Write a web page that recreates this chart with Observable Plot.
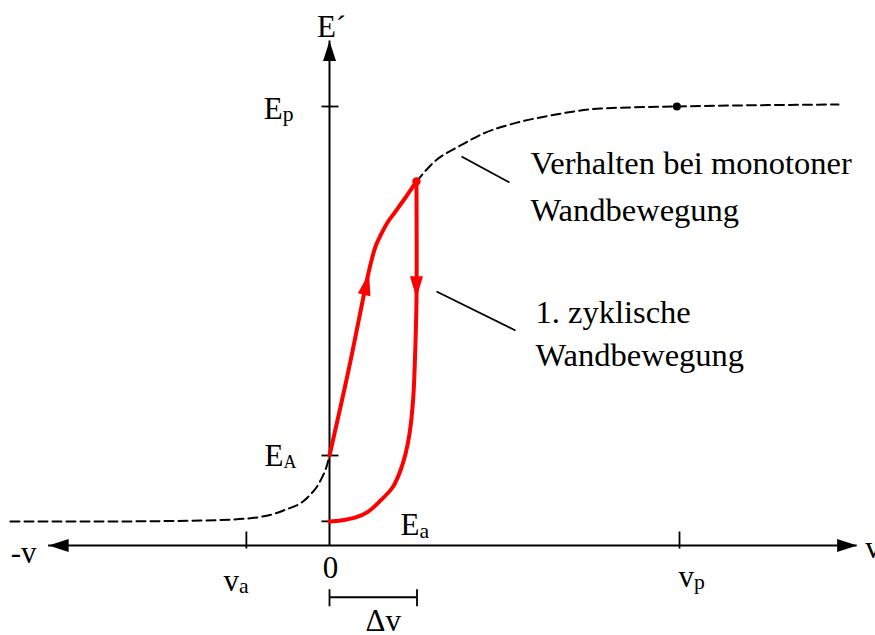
<!DOCTYPE html>
<html>
<head>
<meta charset="utf-8">
<script src="https://cdn.jsdelivr.net/npm/d3@7"></script>
<script src="https://cdn.jsdelivr.net/npm/@observablehq/plot@0.6"></script>
<style>
  html, body { margin: 0; padding: 0; background: #fff; }
  #chart svg { display: block; }
</style>
</head>
<body>
<div id="chart"></div>
<script>
// Characteristic displacements (v) and stiffness levels (E')
const vTickValues = [-0.95, 0, 4];          // v_a, 0, v_p
const vTickLabels = ["v_a", "0", "v_p"];
const eTickValues = [10, 2.05, 0.55];       // E_p, E_A, E_a
const eTickLabels = ["E_p", "E_A", "E_a"];
const deltaV = 1.0;
const vAxisExtent = [-3.21, 6.03];
const eAxisTop = 11.49;
const bracketE = -1.18;

// Monotonic wall movement (dashed), negative displacement side
const monoNegV = [-3.646, -2.617, -1.474, -0.937, -0.526, -0.251, -0.103, -0.023, 0];
const monoNegE = [0.547, 0.547, 0.569, 0.615, 0.797, 1.093, 1.481, 1.868, 2.05];
// Monotonic wall movement (dashed), beyond the reversal point
const monoPosV = [0.994, 1.189, 1.497, 1.76, 2.149, 2.526, 3.097, 3.97, 5.817];
const monoPosE = [8.292, 8.724, 9.112, 9.385, 9.636, 9.795, 9.954, 10.0, 10.046];
// First cyclic wall movement: loading branch
const loadV = [0, 0.217, 0.434, 0.48, 0.526, 0.583, 0.663, 0.754, 0.869, 0.994];
const loadE = [2.05, 3.986, 6.105, 6.492, 6.811, 7.062, 7.358, 7.608, 7.927, 8.292];
// First cyclic wall movement: unloading branch
const unloadV = [0.994, 0.994, 0.98, 0.955, 0.915, 0.87, 0.811, 0.72, 0.583, 0.434, 0.3, 0.13, 0];
const unloadE = [8.292, 5.581, 4.442, 3.303, 2.551, 2.096, 1.708, 1.321, 1.025, 0.76, 0.64, 0.57, 0.547];

// Reversal point of the cycle and the plateau point (v_p, E_p)
const reversalPoint = [0.994, 8.292];
const plateauPoint = [3.97, 10.0];

// Direction arrows on the loop
const loopArrowV = [0.452, 0.994];
const loopArrowE = [6.2, 5.63];
const loopArrowAngle = [13, 180];

// Leader lines to the annotations
const leaderV1 = [1.509, 1.223];
const leaderE1 = [8.861, 5.786];
const leaderV2 = [2.057, 2.126];
const leaderE2 = [8.269, 4.897];
const annotations = ["Verhalten bei monotoner\nWandbewegung", "1. zyklische\nWandbewegung"];

const zip = (vs, es) => vs.map((v, i) => ({v, E: es[i]}));
const FONT = "'Liberation Serif', 'Times New Roman', Times, serif";
const FS = 31;

// filled arrowhead with its tip at the origin, pointing up
const arrowHead = (len, half) => ({
  draw(ctx) { ctx.moveTo(0, 0); ctx.lineTo(half, len); ctx.lineTo(-half, len); ctx.closePath(); }
});
const hTick = {draw(ctx) { ctx.moveTo(-8, 0); ctx.lineTo(9, 0); }};
const vTick = {draw(ctx) { ctx.moveTo(0, -14); ctx.lineTo(0, 3); }};
const vBracketEnd = {draw(ctx) { ctx.moveTo(0, -8); ctx.lineTo(0, 9); }};

const axisTips = [
  {v: vAxisExtent[1], E: 0, angle: 90},
  {v: vAxisExtent[0], E: 0, angle: -90},
  {v: 0, E: eAxisTop, angle: 0}
];

const txt = (label, v, E, opts) => Plot.text([label], {
  x: () => v, y: () => E, text: d => d,
  fontFamily: FONT, fontSize: FS, fill: "black", lineAnchor: "bottom", ...opts
});

const chart = Plot.plot({
  width: 875,
  height: 635,
  x: {domain: [0, vTickValues[2]], range: [329, 679], axis: null},
  y: {domain: [0, eTickValues[0]], range: [545, 106], axis: null},
  style: {fontFamily: FONT, fontSize: FS + "px", background: "white", overflow: "visible"},
  marks: [
    // axes
    Plot.ruleY([0], {x1: vAxisExtent[0], x2: vAxisExtent[1], stroke: "black", strokeWidth: 2}),
    Plot.ruleX([0], {y1: 0, y2: eAxisTop, stroke: "black", strokeWidth: 2}),
    Plot.dot(axisTips, {x: "v", y: "E", rotate: "angle", symbol: arrowHead(20, 6.5), fill: "black", stroke: "none"}),
    Plot.dot(eTickValues, {x: 0, y: d => d, symbol: hTick, stroke: "black", strokeWidth: 1.8, fill: "none"}),
    Plot.dot(vTickValues.filter(d => d !== 0), {x: d => d, y: 0, symbol: vTick, stroke: "black", strokeWidth: 1.8, fill: "none"}),
    // Δv bracket
    Plot.ruleY([bracketE], {x1: 0, x2: deltaV, stroke: "black", strokeWidth: 2}),
    Plot.dot([0, deltaV], {x: d => d, y: bracketE, symbol: vBracketEnd, stroke: "black", strokeWidth: 1.8, fill: "none"}),
    // monotonic behaviour (dashed)
    Plot.line(zip(monoNegV, monoNegE), {x: "v", y: "E", curve: "monotone-x", stroke: "black", strokeWidth: 2, strokeDasharray: "9,5"}),
    Plot.line(zip(monoPosV, monoPosE), {x: "v", y: "E", curve: "monotone-x", stroke: "black", strokeWidth: 2, strokeDasharray: "9,5"}),
    // leader lines
    Plot.link([0, 1], {x1: i => leaderV1[i], y1: i => leaderE1[i], x2: i => leaderV2[i], y2: i => leaderE2[i], stroke: "black", strokeWidth: 1.8}),
    // first cyclic wall movement
    Plot.line(zip(loadV, loadE), {x: "v", y: "E", curve: "catmull-rom", stroke: "#ff0000", strokeWidth: 4}),
    Plot.line(zip(unloadV, unloadE), {x: "v", y: "E", curve: "catmull-rom", stroke: "#ff0000", strokeWidth: 4}),
    Plot.dot([0, 1], {x: i => loopArrowV[i], y: i => loopArrowE[i], rotate: i => loopArrowAngle[i], symbol: arrowHead(22, 6.5), fill: "#ff0000", stroke: "none"}),
    Plot.dot([reversalPoint], {x: d => d[0], y: d => d[1], r: 4.2, fill: "#ff0000", stroke: "none"}),
    Plot.dot([plateauPoint], {x: d => d[0], y: d => d[1], r: 4, fill: "black", stroke: "none"}),
    // axis titles
    txt("E´", 0, eAxisTop, {textAnchor: "middle", dx: 2, dy: -4}),
    txt("-v", vAxisExtent[0], 0, {textAnchor: "end", dx: -12, dy: 17}),
    txt("v", vAxisExtent[1], 0, {textAnchor: "start", dx: 8, dy: 12}),
    // stiffness tick labels
    txt(eTickLabels[0], 0, eTickValues[0], {textAnchor: "end", dx: -36, dy: 12}),
    txt(eTickLabels[1], 0, eTickValues[1], {textAnchor: "end", dx: -33, dy: 10}),
    txt(eTickLabels[2], 0, eTickValues[2], {textAnchor: "start", dx: 71, dy: 14}),
    // displacement tick labels
    txt(vTickLabels[0], vTickValues[0], 0, {textAnchor: "start", dx: -23, dy: 45}),
    txt(vTickLabels[1], vTickValues[1], 0, {textAnchor: "middle", dx: 1, dy: 32}),
    txt(vTickLabels[2], vTickValues[2], 0, {textAnchor: "start", dx: -1, dy: 41}),
    txt("Δv", deltaV / 2, bracketE, {textAnchor: "middle", dx: 10, dy: 34}),
    // annotations
    txt(annotations[0], leaderV2[0], leaderE2[0], {textAnchor: "start", dx: 21, dy: 39, lineHeight: 1.45, fontSize: 32.5}),
    txt(annotations[1], leaderV2[1], leaderE2[1], {textAnchor: "start", dx: 20, dy: 35, lineHeight: 1.32, fontSize: 32.5})
  ]
});

// render "X_y" labels with a subscript
const subScale = {A: 0.58};
chart.querySelectorAll("text").forEach(t => {
  const m = t.textContent.match(/^(.+)_(.+)$/);
  if (!m || t.querySelector("tspan")) return;
  t.textContent = m[1];
  const sub = document.createElementNS("http://www.w3.org/2000/svg", "tspan");
  sub.setAttribute("font-size", (subScale[m[2]] || 0.7) + "em");
  sub.setAttribute("dy", "0.12em");
  sub.textContent = m[2];
  t.appendChild(sub);
});

document.getElementById("chart").appendChild(chart);
</script>
</body>
</html>
